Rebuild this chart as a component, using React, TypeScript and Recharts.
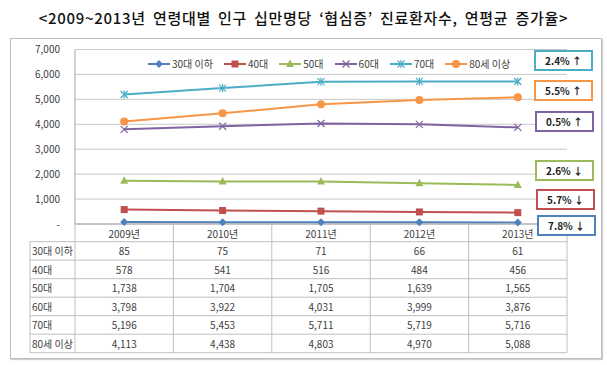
import React from "react";
import {
  LineChart,
  Line,
  XAxis,
  YAxis,
  CartesianGrid,
} from "recharts";

const years = ["2009년", "2010년", "2011년", "2012년", "2013년"];
const under30 = [85, 75, 71, 66, 61];
const age40 = [578, 541, 516, 484, 456];
const age50 = [1738, 1704, 1705, 1639, 1565];
const age60 = [3798, 3922, 4031, 3999, 3876];
const age70 = [5196, 5453, 5711, 5719, 5716];
const age80 = [4113, 4438, 4803, 4970, 5088];
const yTicks = [0, 1000, 2000, 3000, 4000, 5000, 6000, 7000];

// 연평균 증가율 (top to bottom in the boxes)
const rateNames = ["70대", "80세 이상", "60대", "50대", "40대", "30대 이하"];
const rateLabels = ["2.4% ↑", "5.5% ↑", "0.5% ↑", "2.6% ↓", "5.7% ↓", "7.8% ↓"];

const FONT = "'Noto Sans CJK KR', 'Noto Sans', sans-serif";

type MarkerKind = "diamond" | "square" | "triangle" | "x" | "star" | "circle";

const series: { key: string; name: string; values: number[]; color: string; marker: MarkerKind }[] = [
  { key: "s30", name: "30대 이하", values: under30, color: "#4F81BD", marker: "diamond" },
  { key: "s40", name: "40대", values: age40, color: "#C0504D", marker: "square" },
  { key: "s50", name: "50대", values: age50, color: "#9BBB59", marker: "triangle" },
  { key: "s60", name: "60대", values: age60, color: "#8064A2", marker: "x" },
  { key: "s70", name: "70대", values: age70, color: "#4BACC6", marker: "star" },
  { key: "s80", name: "80세 이상", values: age80, color: "#F79646", marker: "circle" },
];

const data = years.map((year, i) => {
  const row: Record<string, string | number> = { year };
  series.forEach((s) => (row[s.key] = s.values[i]));
  return row;
});

const Marker = ({ cx, cy, kind, color }: { cx: number; cy: number; kind: MarkerKind; color: string }) => {
  if (cx == null || cy == null) return null;
  switch (kind) {
    case "diamond":
      return <polygon points={`${cx},${cy - 4} ${cx + 4},${cy} ${cx},${cy + 4} ${cx - 4},${cy}`} fill={color} />;
    case "square":
      return <rect x={cx - 3.5} y={cy - 3.5} width={7} height={7} fill={color} />;
    case "triangle":
      return <polygon points={`${cx},${cy - 4.5} ${cx + 4},${cy + 3} ${cx - 4},${cy + 3}`} fill={color} />;
    case "x":
      return (
        <g stroke={color} strokeWidth={1.2}>
          <line x1={cx - 3.5} y1={cy - 3.5} x2={cx + 3.5} y2={cy + 3.5} />
          <line x1={cx - 3.5} y1={cy + 3.5} x2={cx + 3.5} y2={cy - 3.5} />
        </g>
      );
    case "star":
      return (
        <g stroke={color} strokeWidth={1.2}>
          <line x1={cx - 3.5} y1={cy - 3.5} x2={cx + 3.5} y2={cy + 3.5} />
          <line x1={cx - 3.5} y1={cy + 3.5} x2={cx + 3.5} y2={cy - 3.5} />
          <line x1={cx} y1={cy - 4} x2={cx} y2={cy + 4} />
        </g>
      );
    default:
      return <circle cx={cx} cy={cy} r={4} fill={color} />;
  }
};

// layout of the overlay table & boxes
const plotLeft = 75;
const plotRight = 567;
const colW = (plotRight - plotLeft) / years.length;
const tableTop = 241.7;
const rowH = 18.5;
const boxTops = [50, 80, 111, 160, 189, 215];
const boxLefts = [534, 534, 535, 535, 536, 537];

const App: React.FC = () => {
  return (
    <div
      style={{
        position: "absolute",
        left: 0,
        top: 0,
        width: 607,
        height: 365,
        background: "#fff",
        fontFamily: FONT,
      }}
    >
      <div
        style={{
          position: "absolute",
          top: 7,
          width: 607,
          textAlign: "center",
          fontSize: 15,
          fontWeight: 500,
          color: "#111",
          whiteSpace: "nowrap",
          letterSpacing: 0.7,
          wordSpacing: 3,
        }}
      >
        {"<2009~2013년 연령대별 인구 십만명당 ‘협심증’ 진료환자수, 연평균 증가율>"}
      </div>
      <div
        style={{
          position: "absolute",
          left: 10,
          top: 38,
          width: 590,
          height: 319,
          border: "1px solid #BFBFBF",
          boxShadow: "1px 1px 1px #D0D0D0",
        }}
      />
      <div style={{ position: "absolute", left: 0, top: 0 }}>
        <LineChart width={607} height={365} data={data} margin={{ top: 49.5, right: 40, left: 0, bottom: 121 }}>
          <CartesianGrid vertical={false} stroke="#C8C8C8" />
          <XAxis
            dataKey="year"
            scale="band"
            height={20}
            axisLine={{ stroke: "#A6A6A6" }}
            tickLine={false}
            tickMargin={1}
            tick={{ fontSize: 10, fill: "#404040", fontFamily: FONT }}
          />
          <YAxis
            width={75}
            domain={[0, 7000]}
            ticks={yTicks}
            interval={0}
            axisLine={{ stroke: "#A6A6A6" }}
            tickLine={false}
            tickMargin={9}
            tick={{ fontSize: 10, fill: "#404040", fontFamily: FONT }}
            tickFormatter={(v: number) => (v === 0 ? "-" : v.toLocaleString("en-US"))}
          />
          {series.map((s) => (
            <Line
              key={s.key}
              dataKey={s.key}
              name={s.name}
              stroke={s.color}
              strokeWidth={2}
              isAnimationActive={false}
              dot={(p: any) => <Marker key={`${s.key}-${p.index}`} cx={p.cx} cy={p.cy} kind={s.marker} color={s.color} />}
            />
          ))}
        </LineChart>
      </div>

      {/* legend */}
      <div
        style={{
          position: "absolute",
          left: 148,
          top: 56,
          display: "flex",
          alignItems: "center",
          fontSize: 10,
          color: "#404040",
          whiteSpace: "nowrap",
        }}
      >
        {series.map((s) => (
          <div key={s.key} style={{ display: "flex", alignItems: "center", marginRight: 11 }}>
            <svg width={22} height={12}>
              <line x1={0} y1={6} x2={22} y2={6} stroke={s.color} strokeWidth={2} />
              <Marker cx={11} cy={6} kind={s.marker} color={s.color} />
            </svg>
            <span style={{ marginLeft: 2 }}>{s.name}</span>
          </div>
        ))}
      </div>

      {/* data table */}
      <svg width={607} height={365} style={{ position: "absolute", left: 0, top: 0, pointerEvents: "none" }}>
        {years.map((_, j) => (
          <line key={`v${j}`} x1={plotLeft + j * colW} y1={224} x2={plotLeft + j * colW} y2={tableTop + series.length * rowH} stroke="#BFBFBF" />
        ))}
        <line x1={plotRight} y1={224} x2={plotRight} y2={tableTop + series.length * rowH} stroke="#BFBFBF" />
        <line x1={30} y1={tableTop} x2={30} y2={tableTop + series.length * rowH} stroke="#BFBFBF" />
        {series.map((_, r) => (
          <line key={`h${r}`} x1={30} y1={tableTop + r * rowH} x2={plotRight} y2={tableTop + r * rowH} stroke="#BFBFBF" />
        ))}
        <line x1={30} y1={tableTop + series.length * rowH} x2={plotRight} y2={tableTop + series.length * rowH} stroke="#BFBFBF" />
        {series.map((s, r) => (
          <g key={`row${s.key}`} fontSize={10} fill="#404040" fontFamily={FONT}>
            <text x={32} y={tableTop + r * rowH + rowH / 2} dominantBaseline="central">
              {s.name}
            </text>
            {s.values.map((v, j) => (
              <text
                key={j}
                x={plotLeft + j * colW + colW / 2}
                y={tableTop + r * rowH + rowH / 2}
                textAnchor="middle"
                dominantBaseline="central"
              >
                {v.toLocaleString("en-US")}
              </text>
            ))}
          </g>
        ))}
      </svg>

      {/* growth-rate boxes */}
      {rateLabels.map((label, i) => {
        const s = series.find((x) => x.name === rateNames[i])!;
        return (
          <div
            key={label}
            style={{
              position: "absolute",
              left: boxLefts[i],
              top: boxTops[i],
              width: 55,
              height: 17,
              border: `2px solid ${s.color}`,
              background: "#fff",
              fontSize: 10,
              fontWeight: 700,
              color: "#222",
              textAlign: "center",
              lineHeight: "17px",
            }}
          >
            {label}
          </div>
        );
      })}
    </div>
  );
};

export default App;
